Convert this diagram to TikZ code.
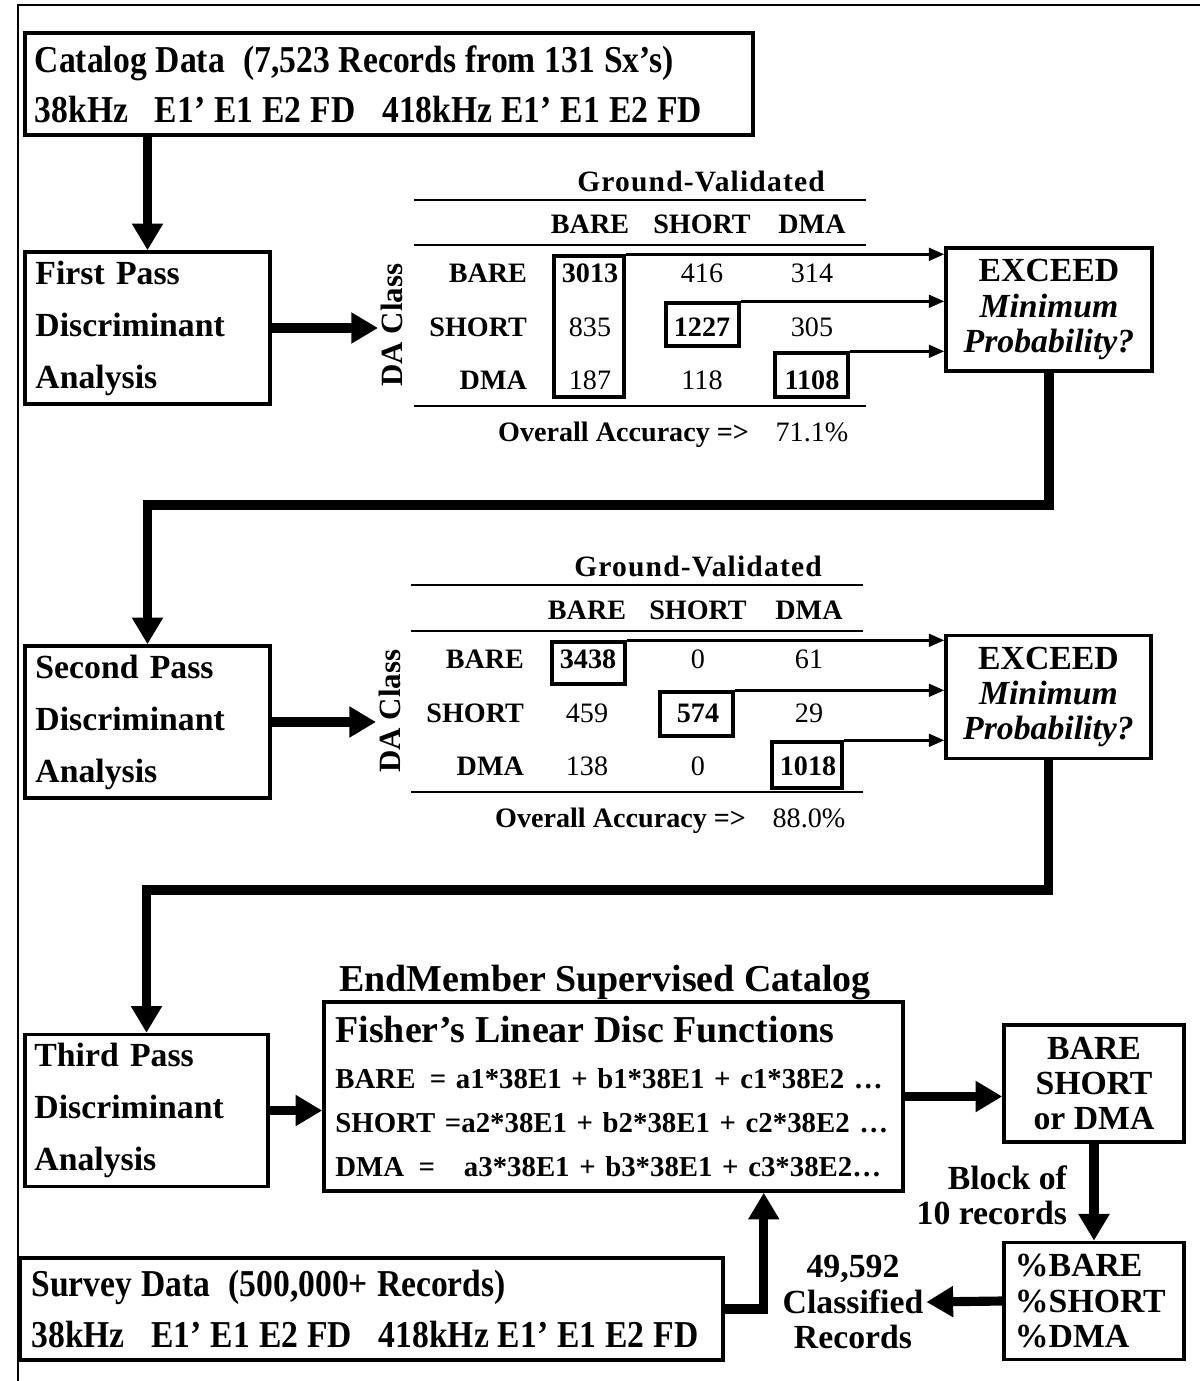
\documentclass[tikz,border=0pt]{standalone}
\usepackage{fontspec}
\setmainfont{Liberation Serif}
\newfontfamily\condfont{Liberation Serif}[FakeStretch=0.885]
\newcommand{\narrowsp}{\spaceskip=6.4pt\relax}
\usetikzlibrary{arrows.meta,calc}

\begin{document}
\begin{tikzpicture}[x=.025cm,y=-.025cm,
    box/.style={draw,line width=2.4pt,inner sep=0pt},
    databox/.style={box,minimum height=2.55cm,align=left,font=\condfont\fontsize{27}{35.6}\selectfont\bfseries},
    passbox/.style={box,minimum width=6.125cm,minimum height=3.8cm,text width=5.6cm,align=left,font=\fontsize{24}{37}\selectfont\bfseries},
    askbox/.style={box,minimum width=5.15cm,minimum height=3.075cm,align=center,font=\fontsize{24}{25}\selectfont\bfseries},
    smallbox/.style={box,minimum width=4.5cm,minimum height=2.93cm,font=\fontsize{24}{25}\selectfont\bfseries},
    hlbox/.style={draw,line width=2.4pt,inner sep=0pt},
    tab/.style={inner sep=2pt,font=\fontsize{20}{24}\selectfont},
    tabb/.style={inner sep=2pt,font=\fontsize{20}{24}\selectfont\bfseries},
    rowlab/.style={tabb,anchor=east},
    gvtitle/.style={inner sep=2pt,font=\fontsize{21}{24}\selectfont\bfseries\addfontfeatures{LetterSpace=4}},
    daclass/.style={inner sep=2pt,rotate=90,font=\fontsize{22}{24}\selectfont\bfseries},
    note/.style={inner sep=2pt,font=\fontsize{24}{25}\selectfont\bfseries},
    tabrule/.style={line width=2pt},
    flow/.style={line width=6.5pt,-{Triangle[length=19pt,width=21pt]}},
    feed/.style={line width=2pt,-{Triangle[length=11pt,width=9pt]}}]
    \useasboundingbox(0,0)rectangle(1199,1381);
    \draw[line width=1.4pt](18,1395)--(18,5)--(1215,5);
    \node[databox,minimum width=18.2cm,text width=17.7cm](cat)at(389,84){\narrowsp\mbox{Catalog Data\hspace{13pt}(7,523 Records from 131 Sx’s)}\\\mbox{38kHz\hspace{19pt}E1’ E1 E2 FD\hspace{19pt}418kHz E1’ E1 E2 FD}};
    \node[passbox](fp1)at(147.5,328){First Pass\\Discriminant\\Analysis};
    \node[passbox](sp2)at(147.5,722){Second Pass\\Discriminant\\Analysis};
    \node[passbox,minimum width=6.075cm](tp3)at(146.5,1110.5){Third Pass\\Discriminant\\Analysis};
    \draw[flow](fp1.north|-cat.south)--(fp1.north);
    \node[daclass](da1)at(392,325){DA Class};
    \draw[flow](fp1.east)--(fp1.east-|da1.north);
    \node[gvtitle](gv1)at(701,181){Ground-Validated};
    \draw[tabrule](414,200)--(866,200);
    \node[tabb](h1a)at(590,224){BARE};
    \node[tabb](h1b)at(702,224){SHORT};
    \node[tabb](h1c)at(812,224){DMA};
    \draw[tabrule](414,245)--(866,245);
    \node[rowlab](r1a)at(530,273){BARE};
    \node[rowlab](r1b)at(530,327){SHORT};
    \node[rowlab](r1c)at(530,380){DMA};
    \node[tabb](v1aa)at(590,273){3013};
    \node[tab](v1ab)at(702,273){416};
    \node[tab](v1ac)at(812,273){314};
    \node[tab](v1ba)at(590,327){835};
    \node[tabb](v1bb)at(702,327){1227};
    \node[tab](v1bc)at(812,327){305};
    \node[tab](v1ca)at(590,380){187};
    \node[tab](v1cb)at(702,380){118};
    \node[tabb](v1cc)at(812,380){1108};
    \draw[tabrule](414,406)--(866,406);
    \node[tabb,anchor=base east](oa1)at(752,441){Overall Accuracy =>};
    \node[tab,anchor=base](pc1)at(812,441){71.1\%};
    \node[hlbox,minimum width=1.75cm,minimum height=3.525cm](k1a)at(589,326.5){};
    \node[hlbox,minimum width=1.825cm,minimum height=1.075cm](k1b)at(702.5,324.5){};
    \node[hlbox,minimum width=1.825cm,minimum height=1.1cm](k1c)at(811.5,375){};
    \node[askbox](ex1)at(1049,309.5){EXCEED\\\textit{Minimum}\\\textit{Probability?}};
    \draw[feed](k1a.north east)--(k1a.north east-|ex1.west);
    \draw[feed](k1b.north east)--(k1b.north east-|ex1.west);
    \draw[feed](k1c.north east)--(k1c.north east-|ex1.west);
    \coordinate(turn1)at(600,505);
    \draw[flow](ex1.south)|-(turn1)-|(sp2.north);
    \node[daclass](da2)at(390,711){DA Class};
    \draw[flow](sp2.east)--(sp2.east-|da2.north);
    \node[gvtitle](gv2)at(698,566){Ground-Validated};
    \draw[tabrule](411,585)--(863,585);
    \node[tabb](h2a)at(587,610){BARE};
    \node[tabb](h2b)at(698,610){SHORT};
    \node[tabb](h2c)at(809,610){DMA};
    \draw[tabrule](411,631)--(863,631);
    \node[rowlab](r2a)at(527,659){BARE};
    \node[rowlab](r2b)at(527,713){SHORT};
    \node[rowlab](r2c)at(527,766){DMA};
    \node[tabb](v2aa)at(588,659){3438};
    \node[tab](v2ab)at(698,659){0};
    \node[tab](v2ac)at(809,659){61};
    \node[tab](v2ba)at(587,713){459};
    \node[tabb](v2bb)at(698,713){574};
    \node[tab](v2bc)at(809,713){29};
    \node[tab](v2ca)at(587,766){138};
    \node[tab](v2cb)at(698,766){0};
    \node[tabb](v2cc)at(808,766){1018};
    \draw[tabrule](411,792)--(863,792);
    \node[tabb,anchor=base east](oa2)at(749,827){Overall Accuracy =>};
    \node[tab,anchor=base](pc2)at(809,827){88.0\%};
    \node[hlbox,minimum width=1.825cm,minimum height=1.05cm](k2a)at(588.5,663){};
    \node[hlbox,minimum width=1.825cm,minimum height=1.1cm](k2b)at(696.5,714){};
    \node[hlbox,minimum width=1.75cm,minimum height=1.15cm](k2c)at(807,765){};
    \node[askbox,minimum width=5.125cm](ex2)at(1048.5,697){EXCEED\\\textit{Minimum}\\\textit{Probability?}};
    \draw[feed](k2a.north east)--(k2a.north east-|ex2.west);
    \draw[feed](k2b.north east)--(k2b.north east-|ex2.west);
    \draw[feed](k2c.north east)--(k2c.north east-|ex2.west);
    \coordinate(turn2)at(600,890);
    \draw[flow](ex2.south)|-(turn2)-|(tp3.north);
    \node[font=\fontsize{27}{30}\selectfont\bfseries,anchor=base](emc)at(605,991){EndMember Supervised Catalog};
    \node[box,minimum width=14.475cm,minimum height=4.725cm,text width=13.9cm,align=left,font=\fontsize{20.5}{31.3}\selectfont\bfseries](fld)at(613.5,1096.5){\mbox{\fontsize{27}{31}\selectfont Fisher’s Linear Disc Functions}\\[2pt]\mbox{BARE\hspace{.5em}= a1*38E1 + b1*38E1 + c1*38E2 …}\\\mbox{SHORT =a2*38E1 + b2*38E1 + c2*38E2 …}\\\mbox{DMA\hspace{.5em}=\hspace{1em}a3*38E1 + b3*38E1 + c3*38E2…}};
    \draw[flow](tp3.east)--(tp3.east-|fld.west);
    \node[smallbox,align=center](bsd)at(1094,1083.5){BARE\\SHORT\\or DMA};
    \draw[flow](fld.east)--(fld.east-|bsd.west);
    \node[smallbox,text width=3.95cm,align=left](pct)at(1094,1301){\%BARE\\\%SHORT\\\%DMA};
    \draw[flow](bsd.south)--(pct.north);
    \node[note,align=right,anchor=east](blk)at(1070,1195){Block of\\10 records};
    \node[note,align=center](cls)at(853,1302){49,592\\Classified\\Records};
    \draw[flow](pct.west)--(cls.east);
    \node[databox,minimum width=17.575cm,text width=17cm](sv)at(371.5,1309){\narrowsp\mbox{Survey Data\hspace{13pt}(500,000+ Records)}\\\mbox{38kHz\hspace{19pt}E1’ E1 E2 FD\hspace{19pt}418kHz E1’ E1 E2 FD}};
    \coordinate(fin)at($(fld.south east)+(-141,0)$);
    \draw[flow](sv.east)-|(fin);
\end{tikzpicture}
\end{document}
